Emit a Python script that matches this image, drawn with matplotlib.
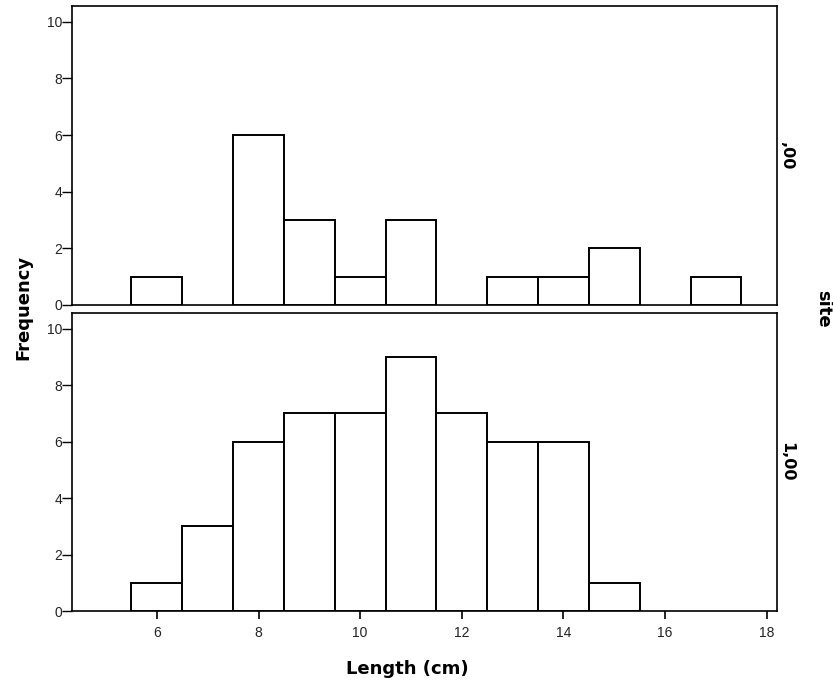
import matplotlib
matplotlib.use("Agg")
import matplotlib.pyplot as plt

# Data
bin_centers_site0 = [6, 8, 9, 10, 11, 13, 14, 15, 17]
counts_site0 = [1, 6, 3, 1, 3, 1, 1, 2, 1]
bin_centers_site1 = [6, 7, 8, 9, 10, 11, 12, 13, 14, 15]
counts_site1 = [1, 3, 6, 7, 7, 9, 7, 6, 6, 1]
panel_labels = [",00", "1,00"]
x_ticks = [6, 8, 10, 12, 14, 16, 18]
y_ticks = [0, 2, 4, 6, 8, 10]
bin_width = 1.0

plt.rcParams['font.family'] = ['Liberation Sans', 'DejaVu Sans']
fig = plt.figure(figsize=(8.33, 6.84), dpi=100)

left, width = 0.0864, 0.8463
ax_top = fig.add_axes([left, 0.5541, width, 0.9912 - 0.5541])
ax_bot = fig.add_axes([left, 0.1067, width, 0.5424 - 0.1067])

bold_font = dict(family='DejaVu Sans', fontweight='bold')

for ax, centers, counts, lab in [(ax_top, bin_centers_site0, counts_site0, panel_labels[0]),
                                 (ax_bot, bin_centers_site1, counts_site1, panel_labels[1])]:
    ax.bar(centers, counts, width=bin_width, facecolor='white', edgecolor='black',
           linewidth=1.4, align='center', zorder=3)
    ax.set_xlim(4.33, 18.2)
    ax.set_ylim(0, 10.56)
    ax.set_yticks(y_ticks)
    ax.tick_params(axis='y', direction='out', length=7, width=1, labelsize=10, pad=0,
                   labelcolor='#222222')
    for s in ax.spines.values():
        s.set_linewidth(1.2)
    # right-side panel label
    ax.text(1.003, 0.5, lab, transform=ax.transAxes, rotation=-90, ha='left', va='center',
            fontsize=11.5, **bold_font)

ax_top.set_xticks([])
ax_bot.set_xticks(x_ticks)
ax_bot.tick_params(axis='x', direction='out', length=6, width=1.2, labelsize=10, pad=5,
                   labelcolor='#222222')

fig.text(0.0276, 0.5504, "Frequency", rotation=90, ha='center', va='center',
         fontsize=13, **bold_font)
fig.text(0.988, 0.549, "site", rotation=-90, ha='center', va='center',
         fontsize=13, **bold_font)
fig.text(0.489, 0.022, "Length (cm)", ha='center', va='center',
         fontsize=13, **bold_font)

fig.savefig("out.png", dpi=100)
